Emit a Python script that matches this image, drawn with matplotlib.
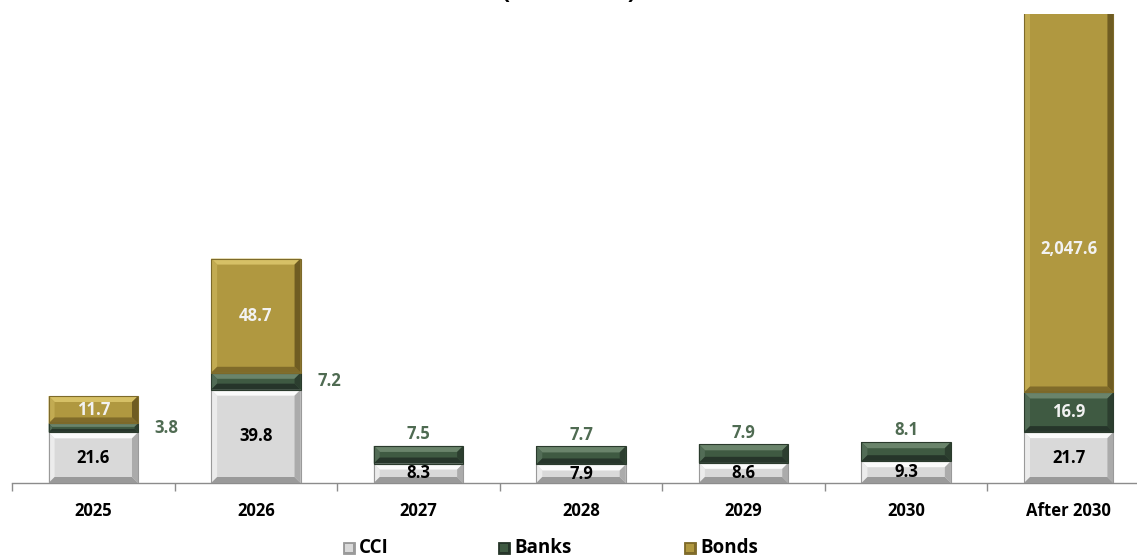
import matplotlib
matplotlib.use("Agg")
import matplotlib.pyplot as plt
from matplotlib.patches import Polygon, Rectangle
import numpy as np

categories = ["2025", "2026", "2027", "2028", "2029", "2030", "After 2030"]
cci = [21.6, 39.8, 8.3, 7.9, 8.6, 9.3, 21.7]
banks = [3.8, 7.2, 7.5, 7.7, 7.9, 8.1, 16.9]
bonds = [11.7, 48.7, 0.0, 0.0, 0.0, 0.0, 2047.6]
bank_label_pos = ["right", "right", "above", "above", "above", "above", "inside"]
series_names = ["CCI", "Banks", "Bonds"]
title = "(R$ million)"

plt.rcParams['font.family'] = ['Open Sans', 'DejaVu Sans']
plt.rcParams['font.weight'] = 'bold'

W, H, DPI = 1137, 558, 100
fig = plt.figure(figsize=(W / DPI, H / DPI), dpi=DPI)
ax = fig.add_axes([12 / W, 75 / H, 1138 / W, 469 / H])
ax.set_xlim(-0.5, len(categories) - 0.5)
ax.set_ylim(0, 200)

styles = {
    "CCI":   dict(base="#d9d9d9", top="#fbfbfb", left="#ececec", bottom="#9a9a9a", right="#ababab", edge="#9a9a9a"),
    "Banks": dict(base="#3f5a42", top="#6a846b", left="#526c56", bottom="#26352a", right="#2c3e2f", edge="#2a3a2c"),
    "Bonds": dict(base="#b09840", top="#d6c066", left="#c2ab52", bottom="#806b2a", right="#6f5c22", edge="#7d6a2a"),
}

bw = 0.55
x = np.arange(len(categories))
fig.canvas.draw()
inv = ax.transData.inverted()


def bevel(ax, xc, y0, h, st, d=6.0):
    if h <= 0:
        return
    x0, x1 = xc - bw / 2, xc + bw / 2
    y1 = y0 + h
    p0 = ax.transData.transform((x0, y0))
    p1 = ax.transData.transform((x1, y1))
    dd = min(d, (p1[1] - p0[1]) / 2.6)
    ax.add_patch(Rectangle((x0, y0), bw, h, facecolor=st["base"], edgecolor="none", zorder=2))

    def D(px, py):
        return inv.transform((px, py))
    A = D(p0[0], p0[1]); B = D(p1[0], p0[1]); C = D(p1[0], p1[1]); E = D(p0[0], p1[1])
    a = D(p0[0] + dd, p0[1] + dd); b = D(p1[0] - dd, p0[1] + dd)
    c = D(p1[0] - dd, p1[1] - dd); e = D(p0[0] + dd, p1[1] - dd)
    ax.add_patch(Polygon([E, C, c, e], closed=True, facecolor=st["top"], edgecolor="none", zorder=3))
    ax.add_patch(Polygon([A, E, e, a], closed=True, facecolor=st["left"], edgecolor="none", zorder=3))
    ax.add_patch(Polygon([A, B, b, a], closed=True, facecolor=st["bottom"], edgecolor="none", zorder=3))
    ax.add_patch(Polygon([B, C, c, b], closed=True, facecolor=st["right"], edgecolor="none", zorder=3))
    ax.add_patch(Rectangle((x0, y0), bw, h, facecolor="none", edgecolor=st["edge"], linewidth=0.8, zorder=4))


ymax = ax.get_ylim()[1]
fs = 12
for i in range(len(categories)):
    bevel(ax, x[i], 0, cci[i], styles["CCI"])
    bevel(ax, x[i], cci[i], banks[i], styles["Banks"])
    bevel(ax, x[i], cci[i] + banks[i], bonds[i], styles["Bonds"])

    ax.text(x[i], cci[i] / 2, f"{cci[i]:,.1f}", ha="center", va="center",
            fontsize=fs, fontweight="bold", color="black", zorder=6)
    by = cci[i] + banks[i] / 2
    pos = bank_label_pos[i]
    if pos == "right":
        ax.text(x[i] + 0.45, by, f"{banks[i]:,.1f}", ha="center", va="center",
                fontsize=fs, fontweight="bold", color="#4f6b52", zorder=6)
    elif pos == "above":
        ax.annotate(f"{banks[i]:,.1f}", (x[i], cci[i] + banks[i]), xytext=(0, 2),
                    textcoords="offset points", ha="center", va="bottom",
                    fontsize=fs, fontweight="bold", color="#4f6b52", zorder=6)
    else:
        ax.text(x[i], by, f"{banks[i]:,.1f}", ha="center", va="center",
                fontsize=fs, fontweight="bold", color="#f2f2f2", zorder=6)
    if bonds[i] > 0:
        b0 = cci[i] + banks[i]
        top = min(b0 + bonds[i], ymax)
        ly = b0 + (top - b0) * (0.5 if b0 + bonds[i] <= ymax else 0.38)
        ax.text(x[i], ly, f"{bonds[i]:,.1f}", ha="center", va="center",
                fontsize=fs, fontweight="bold", color="#f2f2f2", zorder=6)

for s in ["top", "right", "left"]:
    ax.spines[s].set_visible(False)
ax.spines["bottom"].set_color("#8c8c8c")
ax.spines["bottom"].set_linewidth(1.0)
ax.set_yticks([])
ax.set_xticks(x)
ax.set_xticklabels(categories, fontsize=12, fontweight="bold")
ax.set_xticks(np.arange(-0.5, len(categories), 1.0), minor=True)
ax.tick_params(axis="x", which="major", length=0, pad=14)
ax.tick_params(axis="x", which="minor", length=6, color="#8c8c8c", width=1.0)

# title (cut off at the top in the reference)
fig.text(0.5, 1.0 + 1 / H, title, ha="center", va="baseline", fontsize=17, fontweight="bold")

# legend, manually placed
leg_x = [349, 504, 690]
ly = 548
for name, px in zip(series_names, leg_x):
    st = styles[name]
    sq = 12
    r = Rectangle((px - sq / 2, H - ly - sq / 2), sq, sq, transform=None,
                  facecolor=st["bottom"], edgecolor=st["edge"], linewidth=0.6)
    fig.patches.append(r)
    inner = Rectangle((px - sq / 2 + 2, H - ly - sq / 2 + 2), sq - 4, sq - 4, transform=None,
                      facecolor=st["base"], edgecolor="none")
    fig.patches.append(inner)
    fig.text((px + 10) / W, (H - ly) / H, name, ha="left", va="center",
             fontsize=13.5, fontweight="bold", color="black")

fig.savefig("out.png", dpi=DPI)
